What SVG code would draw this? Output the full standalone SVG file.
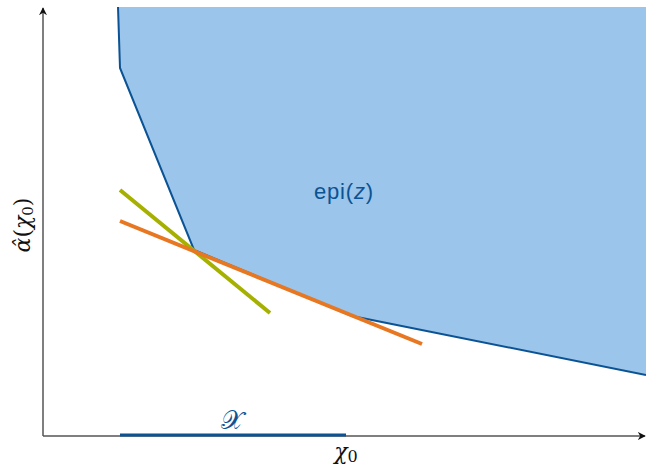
<svg xmlns="http://www.w3.org/2000/svg" width="646" height="465" viewBox="0 0 646 465">
<style>
.axis{stroke:#555;stroke-width:1.5;fill:none}
.lbl{font-family:"DejaVu Serif","Liberation Serif",serif;font-size:22px;fill:#111}
</style>
<defs>
<marker id="arr" viewBox="0 0 10 10" refX="9" refY="5" markerWidth="8" markerHeight="8" orient="auto" markerUnits="userSpaceOnUse">
<path d="M0,0 L10,5 L0,10 L3,5 Z" fill="#111"/>
</marker>
</defs>
<rect width="646" height="465" fill="#fff"/>
<g id="epi">
<path d="M118,7 L646,7 L646,375 L352,316 L194,250 L120,68 Z" fill="#9bc5ea" stroke="none"/>
<path d="M118,7 L120,68 L194,250 L352,316 L646,375" fill="none" stroke="#0b5394" stroke-width="2"/>
<text x="314" y="199" font-family="Liberation Sans,Arial,sans-serif" font-size="22" letter-spacing="0.8" fill="#0b5394">epi(<tspan font-style="italic">z</tspan>)</text>
</g>
<g id="connectors">
<line class="axis" x1="43" y1="436" x2="43" y2="8" marker-end="url(#arr)"/>
<line class="axis" x1="43" y1="436" x2="645" y2="436" marker-end="url(#arr)"/>
<line x1="120" y1="190" x2="270" y2="313" stroke="#a5b000" stroke-width="4"/>
<line x1="120" y1="221" x2="422" y2="344" stroke="#e87722" stroke-width="4"/>
</g>
<g id="set">
<line x1="120" y1="435" x2="346" y2="435" stroke="#0b5394" stroke-width="3"/>
<text x="232" y="429" text-anchor="middle" font-family="DejaVu Serif,serif" font-size="26" fill="#0b5394">𝒳</text>
</g>
<g id="labels">
<text class="lbl" x="346" y="459" text-anchor="middle" font-style="italic" font-size="24">χ<tspan font-style="normal" font-size="16" dy="3">0</tspan></text>
<text class="lbl" transform="translate(30,225) rotate(-90)" text-anchor="middle"><tspan font-style="italic">α̂</tspan>(<tspan font-style="italic">χ</tspan><tspan font-size="15" dy="3">0</tspan><tspan dy="-3">)</tspan></text>
</g>
</svg>
